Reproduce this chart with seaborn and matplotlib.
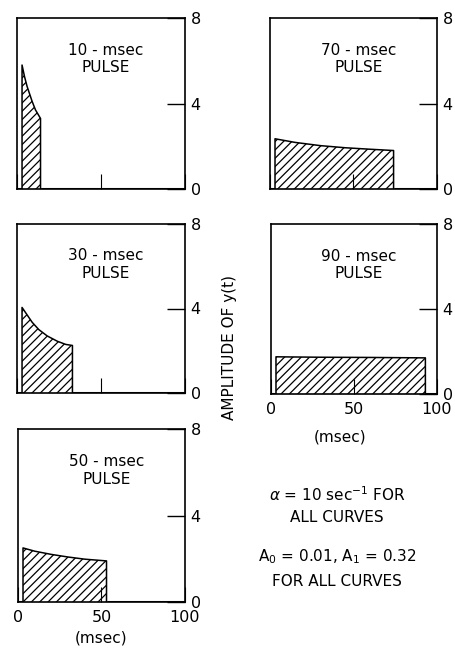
import numpy as np
import pandas as pd
import seaborn as sns
import matplotlib.pyplot as plt

# pulse readings: time (msec) and amplitude of y(t)
labels = ['10 - msec\nPULSE', '70 - msec\nPULSE', '30 - msec\nPULSE',
          '90 - msec\nPULSE', '50 - msec\nPULSE']
t10 = [3, 4.5, 6, 7.5, 9, 11, 14]
a10 = [5.8, 5.25, 4.8, 4.45, 4.1, 3.7, 3.3]
t30 = [3, 6, 9, 13, 18, 24, 29, 33]
a30 = [4.05, 3.7, 3.35, 3.0, 2.7, 2.45, 2.3, 2.25]
t50 = [3, 10, 20, 30, 40, 53]
a50 = [2.5, 2.35, 2.2, 2.08, 1.98, 1.9]
t70 = [3, 15, 30, 45, 60, 74]
a70 = [2.35, 2.18, 2.03, 1.93, 1.86, 1.8]
t90 = [3, 30, 60, 93]
a90 = [1.75, 1.73, 1.72, 1.7]
times = [t10, t70, t30, t90, t50]
amps = [a10, a70, a30, a90, a50]

yticks = [0, 4, 8]
xticks = [0, 50, 100]

sns.set_style('white')
plt.rcParams['font.family'] = ['DejaVu Sans']
plt.rcParams['text.color'] = 'black'
plt.rcParams['xtick.color'] = 'black'
plt.rcParams['ytick.color'] = 'black'
plt.rcParams['hatch.linewidth'] = 0.9

fig = plt.figure(figsize=(4.56, 6.54), dpi=100)

# panel boxes in pixels: left, top, right, bottom
boxes = [(17, 18, 185, 189), (270, 18, 437, 189),
         (17, 224, 185, 393), (271, 224, 437, 394),
         (18, 429, 185, 602)]
W, H = 456, 654
fs = 11

for i in range(5):
    l, t, r, b = boxes[i]
    ax = fig.add_axes([l / W, (H - b) / H, (r - l) / W, (b - t) / H])
    tt = times[i]
    aa = amps[i]
    df = pd.DataFrame({'t': [tt[0]] + tt + [tt[-1]],
                       'y': [0] + aa + [0]})
    ax.fill_between(tt, 0, aa, facecolor='none', edgecolor='black',
                    hatch='////', linewidth=0)
    sns.lineplot(data=df, x='t', y='y', ax=ax, color='black', lw=1.1,
                 sort=False, estimator=None)
    ax.plot([0, tt[0]], [0, 0], color='black', lw=2.2, solid_capstyle='butt')
    ax.plot([tt[-1], 100], [0, 0], color='black', lw=2.2, solid_capstyle='butt')

    ax.set_xlim(0, 100)
    ax.set_ylim(0, 8)
    ax.set_xlabel('')
    ax.set_ylabel('')
    ax.yaxis.tick_right()
    ax.set_yticks(yticks)
    ax.set_yticklabels([str(v) for v in yticks], fontsize=11.5)
    ax.set_xticks(xticks)
    if i in (3, 4):
        ax.set_xticklabels([str(v) for v in xticks], fontsize=11.5)
    else:
        ax.set_xticklabels([])
    ax.tick_params(axis='y', direction='in', length=13, width=1, pad=4,
                   right=True, left=False)
    ax.tick_params(axis='x', direction='in', length=11, width=0.8, pad=6,
                   bottom=True)
    for s in ax.spines.values():
        s.set_visible(True)
        s.set_color('black')
        s.set_linewidth(1.2)
    ax.text(0.53, 0.76, labels[i], transform=ax.transAxes, ha='center',
            va='center', fontsize=fs, linespacing=1.2)

fig.text(340 / W, 1 - 437 / H, '(msec)', ha='center', va='center', fontsize=fs)
fig.text(101 / W, 1 - 638 / H, '(msec)', ha='center', va='center', fontsize=fs)
fig.text(230 / W, 1 - 348 / H, 'AMPLITUDE OF y(t)', rotation=90,
         ha='center', va='center', fontsize=fs)
fig.text(337 / W, 1 - 495 / H, r'$\alpha$ = 10 sec$^{-1}$ FOR', ha='center',
         va='center', fontsize=fs)
fig.text(337 / W, 1 - 518 / H, 'ALL CURVES', ha='center', va='center', fontsize=fs)
fig.text(337 / W, 1 - 557 / H, r'A$_0$ = 0.01, A$_1$ = 0.32', ha='center',
         va='center', fontsize=fs)
fig.text(337 / W, 1 - 581 / H, 'FOR ALL CURVES', ha='center', va='center',
         fontsize=fs)

fig.savefig('out.png', dpi=100)
